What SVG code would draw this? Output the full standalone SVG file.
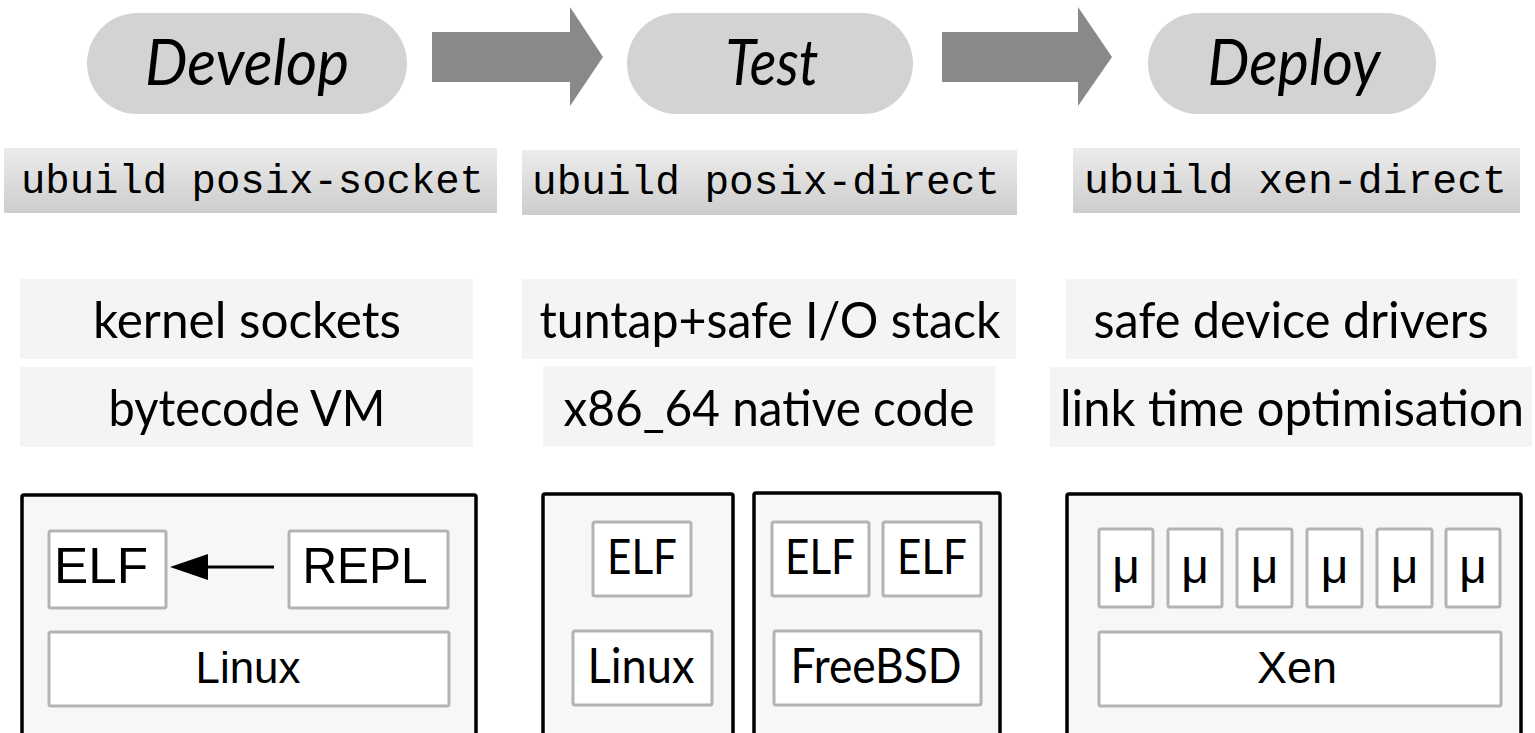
<svg xmlns="http://www.w3.org/2000/svg" width="1535" height="733" viewBox="0 0 1535 733">
<style>
.pill{fill:#d3d3d3}
.phase{font-family:Lato,"Open Sans",sans-serif;font-style:italic;font-size:64px;fill:#000;text-anchor:middle}
.cmdbox{fill:url(#cmdgrad)}
.cmd{font-family:"Liberation Mono","Courier New",monospace;font-size:41px;fill:#000}
.feat{fill:#f4f4f4}
.ftxt{font-family:Lato,"Open Sans",sans-serif;font-size:50px;fill:#000;text-anchor:middle}
.outer{fill:#f7f7f7;stroke:#000;stroke-width:3.5}
.inner{fill:#fff;stroke:#b3b3b3;stroke-width:3}
.hel{font-family:"Liberation Sans",Arial,sans-serif;fill:#000;text-anchor:middle}
.gill{font-family:Lato,"Open Sans",sans-serif;fill:#000;text-anchor:middle}
.big{fill:#898989}
</style>
<defs>
<linearGradient id="cmdgrad" x1="0" y1="0" x2="0" y2="1">
<stop offset="0" stop-color="#ececec"/>
<stop offset="1" stop-color="#cdcdcd"/>
</linearGradient>
</defs>
<rect width="1535" height="733" fill="#fff"/>

<g id="connectors">
<polygon class="big" points="432,32 570,32 570,7 603,57 570,106 570,82 432,82"/>
<polygon class="big" points="942,32 1078,32 1078,7 1112,57 1078,106 1078,82 942,82"/>
</g>

<g id="develop">
<rect class="pill" x="87" y="13" width="320" height="101" rx="50.5"/>
<text class="phase" x="247" y="85" textLength="204" lengthAdjust="spacingAndGlyphs">Develop</text>
</g>
<g id="test">
<rect class="pill" x="627" y="13" width="286" height="101" rx="50.5"/>
<text class="phase" x="772" y="85" textLength="93" lengthAdjust="spacingAndGlyphs">Test</text>
</g>
<g id="deploy">
<rect class="pill" x="1148" y="13" width="288" height="101" rx="50.5"/>
<text class="phase" x="1294" y="85" textLength="173" lengthAdjust="spacingAndGlyphs">Deploy</text>
</g>

<g id="cmd-develop">
<rect class="cmdbox" x="4" y="148" width="493" height="65"/>
<text class="cmd" x="21" y="193" textLength="463" lengthAdjust="spacingAndGlyphs">ubuild posix-socket</text>
</g>
<g id="cmd-test">
<rect class="cmdbox" x="522" y="150" width="495" height="65"/>
<text class="cmd" x="532" y="194" textLength="468" lengthAdjust="spacingAndGlyphs">ubuild posix-direct</text>
</g>
<g id="cmd-deploy">
<rect class="cmdbox" x="1073" y="148" width="447" height="65"/>
<text class="cmd" x="1084" y="193" textLength="423" lengthAdjust="spacingAndGlyphs">ubuild xen-direct</text>
</g>

<g id="kernel-sockets">
<rect class="feat" x="20" y="279" width="453" height="80"/>
<text class="ftxt" x="247" y="338" textLength="308" lengthAdjust="spacingAndGlyphs">kernel sockets</text>
</g>
<g id="tuntap">
<rect class="feat" x="522" y="279" width="494" height="80"/>
<text class="ftxt" x="770" y="338" textLength="461" lengthAdjust="spacingAndGlyphs">tuntap+safe I/O stack</text>
</g>
<g id="safe-drivers">
<rect class="feat" x="1066" y="279" width="451" height="80"/>
<text class="ftxt" x="1291" y="338" textLength="395" lengthAdjust="spacingAndGlyphs">safe device drivers</text>
</g>
<g id="bytecode-vm">
<rect class="feat" x="20" y="367" width="453" height="80"/>
<text class="ftxt" x="247" y="426" textLength="277" lengthAdjust="spacingAndGlyphs">bytecode VM</text>
</g>
<g id="native-code">
<rect class="feat" x="543" y="366" width="452" height="80"/>
<text class="ftxt" x="769" y="426" textLength="411" lengthAdjust="spacingAndGlyphs">x86_64 native code</text>
</g>
<g id="lto">
<rect class="feat" x="1050" y="367" width="482" height="80"/>
<text class="ftxt" x="1292" y="426" textLength="464" lengthAdjust="spacingAndGlyphs">link time optimisation</text>
</g>

<g id="develop-stack">
<rect class="outer" x="22" y="495" width="454" height="250" rx="2"/>
<rect class="inner" x="49" y="531" width="117" height="77" rx="2"/>
<text class="hel" x="101" y="583" font-size="50" textLength="94" lengthAdjust="spacingAndGlyphs">ELF</text>
<rect class="inner" x="289" y="531" width="159" height="77" rx="2"/>
<text class="hel" x="365" y="583" font-size="50" textLength="125" lengthAdjust="spacingAndGlyphs">REPL</text>
<rect class="inner" x="49" y="632" width="400" height="74" rx="2"/>
<text class="hel" x="248" y="683" font-size="45" textLength="105" lengthAdjust="spacingAndGlyphs">Linux</text>
<line x1="274" y1="567" x2="200" y2="567" stroke="#000" stroke-width="3"/>
<polygon points="170,567 208,554 208,580" fill="#000"/>
</g>

<g id="test-linux">
<rect class="outer" x="543" y="494" width="190" height="250" rx="2"/>
<rect class="inner" x="593" y="522" width="98" height="74" rx="2"/>
<text class="gill" x="642" y="574" font-size="48" textLength="70" lengthAdjust="spacingAndGlyphs">ELF</text>
<rect class="inner" x="573" y="631" width="139" height="74" rx="2"/>
<text class="gill" x="641" y="683" font-size="48" textLength="107" lengthAdjust="spacingAndGlyphs">Linux</text>
</g>

<g id="test-freebsd">
<rect class="outer" x="754" y="493" width="246" height="250" rx="2"/>
<rect class="inner" x="772" y="522" width="97" height="74" rx="2"/>
<text class="gill" x="820" y="574" font-size="48" textLength="70" lengthAdjust="spacingAndGlyphs">ELF</text>
<rect class="inner" x="883" y="522" width="98" height="74" rx="2"/>
<text class="gill" x="932" y="574" font-size="48" textLength="70" lengthAdjust="spacingAndGlyphs">ELF</text>
<rect class="inner" x="774" y="631" width="207" height="74" rx="2"/>
<text class="gill" x="876" y="683" font-size="48" textLength="171" lengthAdjust="spacingAndGlyphs">FreeBSD</text>
</g>

<g id="deploy-xen">
<rect class="outer" x="1067" y="494" width="454" height="250" rx="2"/>
<rect class="inner" x="1099" y="529" width="54" height="78" rx="2"/>
<text class="hel" x="1126" y="583" font-size="48">μ</text>
<rect class="inner" x="1168" y="529" width="54" height="78" rx="2"/>
<text class="hel" x="1195" y="583" font-size="48">μ</text>
<rect class="inner" x="1237" y="529" width="55" height="78" rx="2"/>
<text class="hel" x="1264.5" y="583" font-size="48">μ</text>
<rect class="inner" x="1307" y="529" width="55" height="78" rx="2"/>
<text class="hel" x="1334.5" y="583" font-size="48">μ</text>
<rect class="inner" x="1377" y="529" width="55" height="78" rx="2"/>
<text class="hel" x="1404.5" y="583" font-size="48">μ</text>
<rect class="inner" x="1446" y="529" width="54" height="78" rx="2"/>
<text class="hel" x="1473" y="583" font-size="48">μ</text>
<rect class="inner" x="1099" y="632" width="402" height="74" rx="2"/>
<text class="hel" x="1297" y="683" font-size="45" textLength="80" lengthAdjust="spacingAndGlyphs">Xen</text>
</g>
</svg>
